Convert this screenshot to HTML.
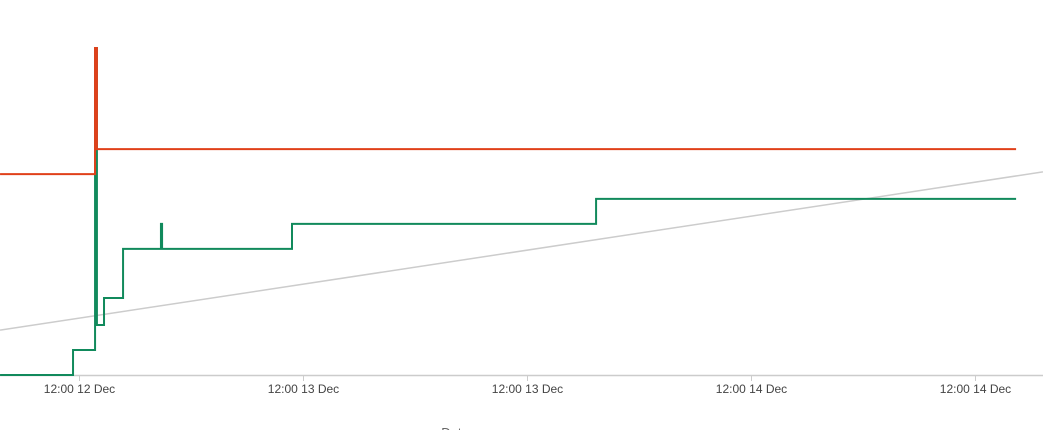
<!DOCTYPE html>
<html><head><meta charset="utf-8"><style>
html,body{margin:0;padding:0;background:#fff;overflow:hidden}
svg{display:block;font-family:"Liberation Sans",sans-serif}
</style></head><body>
<svg id="chart" width="1043" height="430">
<g id="plot"></g>
</svg>
<script>
const tickHours=[12,24,36,48,60];
const tickLabels=["12:00 12 Dec","12:00 13 Dec","12:00 13 Dec","12:00 14 Dec","12:00 14 Dec"];
const redX=[7.77,12.86,12.96,62.2];
const redY=[61.8,100.6,69.5,69.5];
const greenX=[7.77,11.68,12.86,12.96,13.34,14.36,16.39,16.45,23.41,39.7,62.2];
const greenY=[0,7.7,100.6,15.4,23.7,38.8,46.5,38.8,46.5,54.2,54.2];
const trendX=[7.77,63.64];
const trendY=[13.8,62.5];
const NS="http://www.w3.org/2000/svg";
const xs=h=>-145+h*18.667;
const ys=v=>375-v*3.25;
const g=document.getElementById('plot');
function el(t,a){const e=document.createElementNS(NS,t);for(const k in a)e.setAttribute(k,a[k]);g.appendChild(e);return e;}
const ax=el('line',{x1:0,y1:375.5,x2:1043,y2:375.5,stroke:'#ccc','stroke-width':1.5});


tickHours.forEach((h,i)=>{
 const x=Math.round(xs(h))+0.5;
 const t=el('line',{x1:x,y1:376,x2:x,y2:381,stroke:'#ccc'});
 
 
 const l=el('text',{x:x,y:393,'text-anchor':'middle','font-size':12,fill:'#444'});
 l.textContent=tickLabels[i];
 
 
});
const tt=el('text',{x:455,y:437,'text-anchor':'middle','font-size':13,fill:'#666'});
tt.textContent='Date';


const tr=el('line',{x1:xs(trendX[0]),y1:ys(trendY[0]),x2:xs(trendX[1]),y2:ys(trendY[1]),stroke:'#ccc','stroke-width':1.5});


function step(X,Y){let d='';for(let i=0;i<X.length;i++){const x=xs(X[i]),y=ys(Y[i]);if(i==0)d+='M'+x+','+y;else{d+='L'+x+','+ys(Y[i-1])+'L'+x+','+y;}}return d;}
const gp=el('path',{d:step(greenX,greenY),fill:'none',stroke:'#118a5c','stroke-width':2});


const rp=el('path',{d:step(redX,redY),fill:'none',stroke:'#e0401a','stroke-width':2});


</script>
</body></html>
